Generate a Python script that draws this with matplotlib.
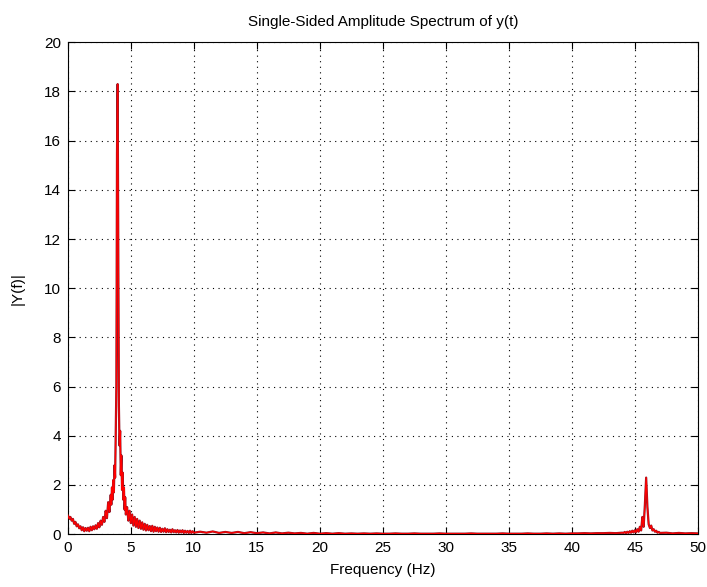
import numpy as np
import matplotlib
matplotlib.use("Agg")
import matplotlib.pyplot as plt

plt.rcParams['font.family'] = ['Liberation Sans', 'DejaVu Sans']

# Segment 1: 0.0 - 3.4 Hz, step 0.1
f1_start, f1_step = 0.0, 0.1
amp1 = [0.78, 0.62, 0.70, 0.55, 0.62, 0.42, 0.50, 0.32, 0.40, 0.24,
        0.32, 0.16, 0.28, 0.12, 0.25, 0.14, 0.26, 0.12, 0.30, 0.16,
        0.32, 0.20, 0.36, 0.22, 0.45, 0.28, 0.55, 0.38, 0.70, 0.50,
        0.95, 0.65, 1.30, 0.90, 1.60]
# Segment 2: 3.45 - 4.60 Hz, step 0.05 (main peak)
f2_start, f2_step = 3.45, 0.05
amp2 = [1.2, 1.9, 1.4, 2.2, 1.7, 2.8, 2.3, 4.2, 6.0, 15.5,
        18.3, 12.0, 5.2, 3.6, 4.2, 2.4, 3.2, 1.8, 2.5, 1.4,
        1.9, 1.0, 1.5, 0.8]
# Segment 3: 4.7 - 10.0 Hz, step 0.1
f3_start, f3_step = 4.7, 0.1
amp3 = [1.1, 0.55, 0.95, 0.45, 0.8, 0.35, 0.7, 0.3, 0.62, 0.25,
        0.55, 0.22, 0.48, 0.18, 0.42, 0.15, 0.38, 0.16, 0.33, 0.12,
        0.34, 0.1, 0.3, 0.12, 0.27, 0.1, 0.26, 0.09, 0.22, 0.1,
        0.24, 0.08, 0.2, 0.09, 0.18, 0.07, 0.2, 0.08, 0.16, 0.07,
        0.17, 0.06, 0.15, 0.07, 0.16, 0.05, 0.14, 0.06, 0.13, 0.05,
        0.14, 0.05, 0.12, 0.06]
# Segment 4: 10.5 - 44.0 Hz, step 0.5
f4_start, f4_step = 10.5, 0.5
amp4 = [0.10, 0.06, 0.11, 0.05, 0.09, 0.05, 0.09, 0.04,
        0.08, 0.04, 0.07, 0.03, 0.07, 0.03, 0.06, 0.03,
        0.05, 0.02, 0.05, 0.02, 0.04, 0.02, 0.04, 0.02,
        0.03, 0.02, 0.03, 0.02, 0.03, 0.02, 0.02, 0.03,
        0.02, 0.02, 0.03, 0.02, 0.02, 0.02, 0.03, 0.02,
        0.02, 0.02, 0.02, 0.03, 0.02, 0.02, 0.02, 0.02,
        0.03, 0.02, 0.02, 0.02, 0.03, 0.02, 0.02, 0.03,
        0.02, 0.03, 0.02, 0.03, 0.03, 0.04, 0.03, 0.04,
        0.04, 0.05, 0.04, 0.06]
# Segment 5: 44.1 - 47.0 Hz, step 0.1 (second peak)
f5_start, f5_step = 44.1, 0.1
amp5 = [0.05, 0.09, 0.04, 0.10, 0.05, 0.12, 0.06, 0.14, 0.07, 0.16,
        0.08, 0.20, 0.10, 0.30, 0.15, 0.70, 0.30, 1.20, 2.30, 1.10,
        0.40, 0.25, 0.35, 0.15, 0.20, 0.10, 0.14, 0.06, 0.09, 0.05]
# Segment 6: 47.5 - 50.0 Hz, step 0.5
f6_start, f6_step = 47.5, 0.5
amp6 = [0.06, 0.03, 0.05, 0.03, 0.04, 0.03]

x_ticks = [0, 5, 10, 15, 20, 25, 30, 35, 40, 45, 50]
y_ticks = [0, 2, 4, 6, 8, 10, 12, 14, 16, 18, 20]

segs = [(f1_start, f1_step, amp1), (f2_start, f2_step, amp2),
        (f3_start, f3_step, amp3), (f4_start, f4_step, amp4),
        (f5_start, f5_step, amp5), (f6_start, f6_step, amp6)]
freq = np.concatenate([s + st * np.arange(len(a)) for s, st, a in segs])
amp = np.concatenate([np.asarray(a, float) for _, _, a in segs])

fig = plt.figure(figsize=(7.07, 5.87), dpi=100)
ax = fig.add_axes([0.096, 0.090, 0.891, 0.838])
ax.plot(freq, amp, color='#8b1a2a', lw=1.6, zorder=2)
ax.plot(freq, amp, color='#ff0000', lw=0.9, zorder=3)

ax.set_xlim(0, 50)
ax.set_ylim(0, 20)
ax.set_xticks(x_ticks)
ax.set_yticks(y_ticks)
ax.grid(True, color='black', linestyle=(0, (1, 4)), linewidth=0.8)
ax.tick_params(direction='in', length=5, top=True, right=True, labelsize=11, width=0.8, pad=5)
for sp in ax.spines.values():
    sp.set_linewidth(0.8)
ax.set_title('Single-Sided Amplitude Spectrum of y(t)', fontsize=11, pad=12)
ax.set_xlabel('Frequency (Hz)', fontsize=11, labelpad=6)
ax.set_ylabel('|Y(f)|', fontsize=11, labelpad=14)
fig.savefig('out.png', dpi=100)
